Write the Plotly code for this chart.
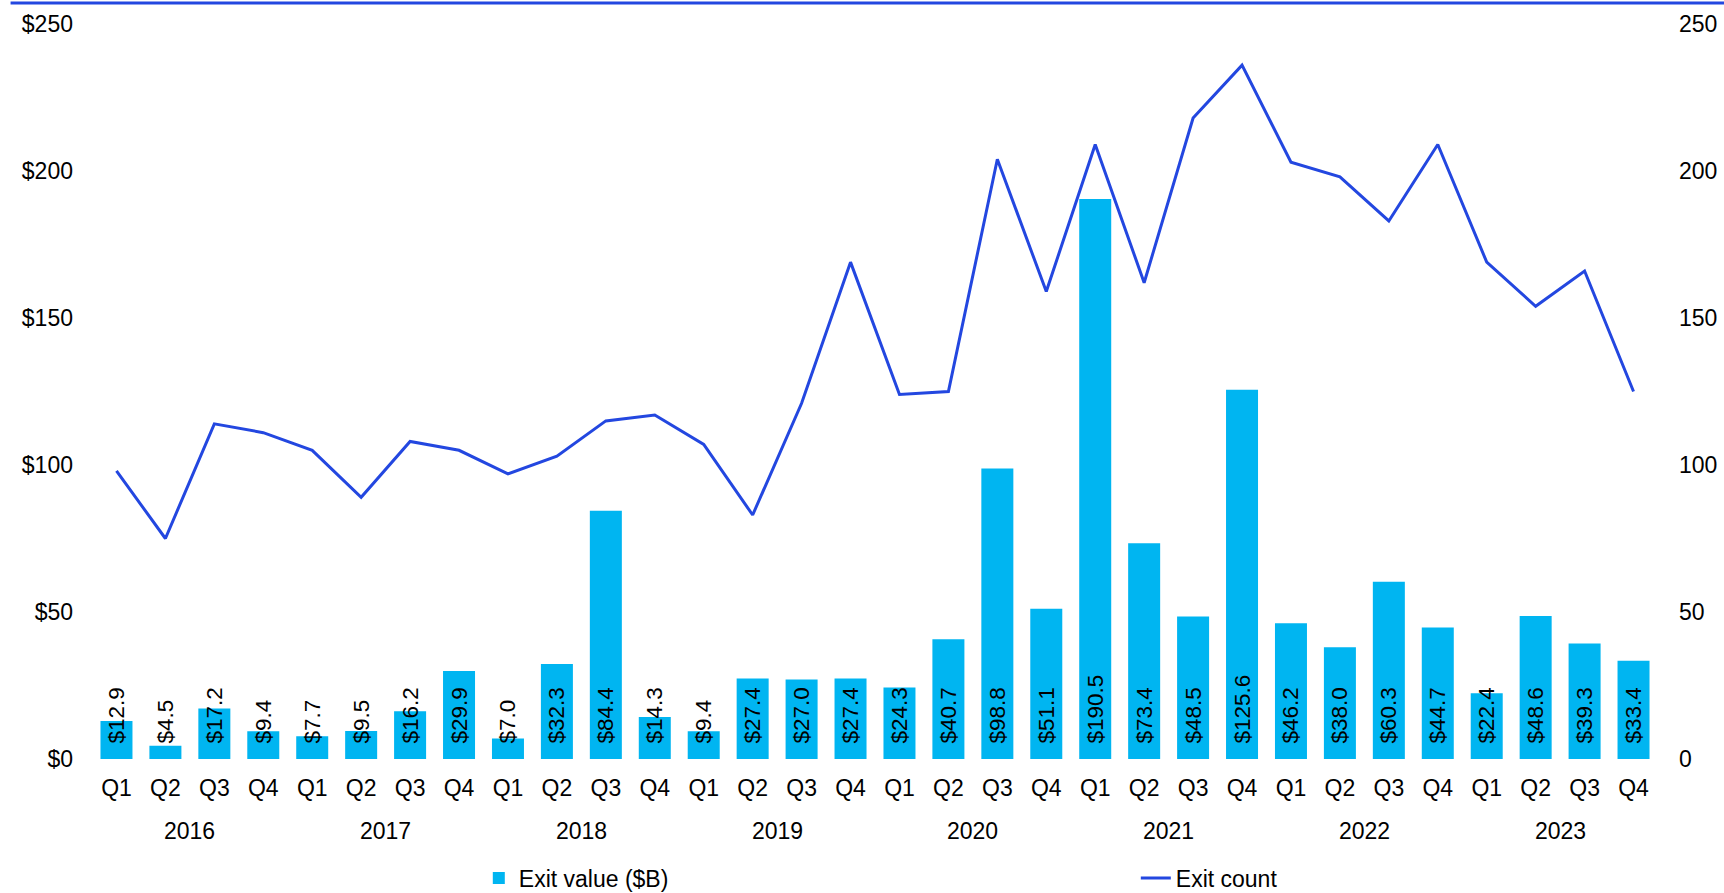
import plotly.graph_objects as go

years = ["2016", "2017", "2018", "2019", "2020", "2021", "2022", "2023"]
quarters = ["Q1", "Q2", "Q3", "Q4"]

exit_value = [12.9, 4.5, 17.2, 9.4,
              7.7, 9.5, 16.2, 29.9,
              7.0, 32.3, 84.4, 14.3,
              9.4, 27.4, 27.0, 27.4,
              24.3, 40.7, 98.8, 51.1,
              190.5, 73.4, 48.5, 125.6,
              46.2, 38.0, 60.3, 44.7,
              22.4, 48.6, 39.3, 33.4]

exit_count = [98, 75, 114, 111,
              105, 89, 108, 105,
              97, 103, 115, 117,
              107, 83, 121, 169,
              124, 125, 204, 159,
              209, 162, 218, 236,
              203, 198, 183, 209,
              169, 154, 166, 125]

left_ticks = [0, 50, 100, 150, 200, 250]
left_ticktext = ["$0", "$50", "$100", "$150", "$200", "$250"]
right_ticks = [0, 50, 100, 150, 200, 250]

periods = [f"{y} {q}" for y in years for q in quarters]
period_q = [q for _ in years for q in quarters]

FONT = "Liberation Sans, Arial, sans-serif"
BAR_COLOR = "#00B5F1"
LINE_COLOR = "#2347E0"
TICK_SIZE = 23

fig = go.Figure()
fig.add_trace(go.Bar(
    x=periods, y=exit_value, name="Exit value ($B)",
    marker=dict(color=BAR_COLOR, line=dict(width=0)),
    texttemplate="\u00a0\u00a0$%{y:.1f}",
    textposition="inside", insidetextanchor="start",
    textangle=-90, constraintext="none",
    insidetextfont=dict(family=FONT, size=22.5, color="black"),
    legendwidth=612,
    yaxis="y",
))
fig.add_trace(go.Scatter(
    x=periods, y=exit_count, name="Exit count",
    mode="lines", line=dict(color=LINE_COLOR, width=3),
    yaxis="y2",
))

# year group labels under the quarter labels
annotations = []
for yr in years:
    first = periods.index(f"{yr} Q1")
    annotations.append(dict(
        x=first + 1.5, xref="x", y=-0.0986, yref="paper",
        text=yr, showarrow=False, xanchor="center", yanchor="middle",
        font=dict(family=FONT, size=TICK_SIZE, color="black"),
    ))

fig.update_layout(
    width=1724, height=893,
    margin=dict(l=91.5, r=66, t=24, b=134, autoexpand=False),
    paper_bgcolor="white", plot_bgcolor="white",
    font=dict(family=FONT, size=TICK_SIZE, color="black"),
    bargap=0.346,
    showlegend=True,
    legend=dict(orientation="h", x=0.247, y=-0.162, xanchor="left", yanchor="middle",
                entrywidth=0, entrywidthmode="pixels",
                font=dict(family=FONT, size=TICK_SIZE, color="black"),
                traceorder="normal"),
    xaxis=dict(type="category", tickvals=periods, ticktext=period_q,
               showgrid=False, showline=False, zeroline=False, ticks="",
               ticklabelstandoff=13, automargin=False,
               tickfont=dict(family=FONT, size=TICK_SIZE, color="black")),
    yaxis=dict(range=[0, 250], tickvals=left_ticks, ticktext=left_ticktext,
               showgrid=False, zeroline=False, showline=False, ticks="",
               ticklabelstandoff=18, automargin=False,
               tickfont=dict(family=FONT, size=TICK_SIZE, color="black")),
    yaxis2=dict(range=[0, 250], tickvals=right_ticks, overlaying="y", side="right",
                showgrid=False, zeroline=False, showline=False, ticks="",
                ticklabelstandoff=20, automargin=False,
                tickfont=dict(family=FONT, size=TICK_SIZE, color="black")),
    shapes=[dict(type="line", xref="paper", yref="paper",
                 x0=-0.052, x1=1.05, y0=1.0286, y1=1.0286,
                 line=dict(color=LINE_COLOR, width=3))],
    annotations=annotations,
)

fig.write_html("out.html",
               config={"displayModeBar": False},
               post_script="document.body.style.margin='0';document.body.style.overflow='hidden';")
